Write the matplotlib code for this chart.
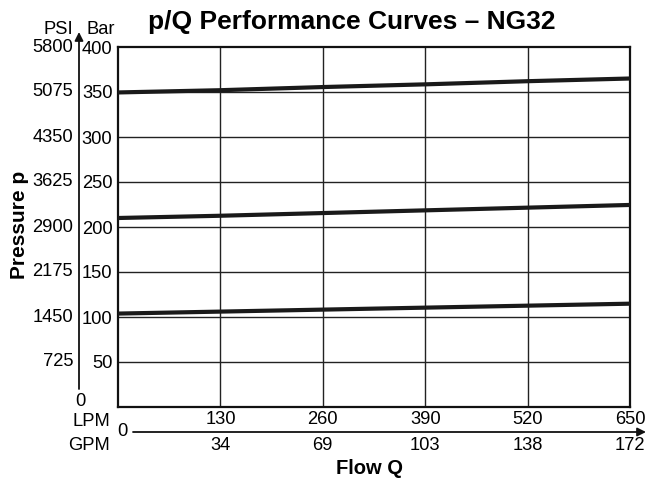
import matplotlib
matplotlib.use("Agg")
import matplotlib.pyplot as plt
from matplotlib.transforms import blended_transform_factory

# ---- data ----
flow_lpm = [0, 130, 260, 390, 520, 650]
curve_high = [349.5, 352.0, 355.5, 358.5, 362.0, 365.0]
curve_mid = [210.0, 212.5, 215.5, 218.5, 221.5, 224.5]
curve_low = [103.8, 106.0, 108.2, 110.4, 112.6, 114.8]
bar_ticks = [50, 100, 150, 200, 250, 300, 350, 400]
psi_labels = ["725", "1450", "2175", "2900", "3625", "4350", "5075", "5800"]
lpm_ticks = [130, 260, 390, 520, 650]
gpm_labels = ["34", "69", "103", "138", "172"]

W, H = 646, 483
FS = 13.2
plt.rcParams['font.family'] = ['Liberation Sans', 'DejaVu Sans']
fig = plt.figure(figsize=(W / 100, H / 100), dpi=100)
L, R, T, B = 118, 630, 47, 407
ax = fig.add_axes([L / W, 1 - B / H, (R - L) / W, (B - T) / H])

def fx(x):
    return x / W

def fy(y):
    return 1 - y / H

for c in (curve_high, curve_mid, curve_low):
    ax.plot(flow_lpm, c, color='#1a1a1a', lw=3.0, solid_capstyle='butt', zorder=3)

ax.set_xlim(0, 650)
ax.set_ylim(0, 400)
for v in bar_ticks[:-1]:
    ax.axhline(v, color='#222222', lw=1.0, zorder=1)
for v in lpm_ticks[:-1]:
    ax.axvline(v, color='#222222', lw=1.0, zorder=1)
for s in ax.spines.values():
    s.set_linewidth(1.6)
    s.set_color('#111111')

ax.set_yticks(bar_ticks)
ax.set_yticklabels([str(v) for v in bar_ticks], fontsize=FS)
ax.tick_params(axis='y', length=0, pad=4)
ax.set_xticks([])

# PSI labels
tr = blended_transform_factory(fig.transFigure, ax.transData)
for v, lab in zip(bar_ticks, psi_labels):
    ax.text(fx(73), v, lab, transform=tr, ha='right', va='center', fontsize=FS)
fig.text(fx(80.5), fy(402), "0", ha='center', va='center', fontsize=FS)

# vertical arrow
fig.add_artist(matplotlib.patches.FancyArrowPatch(
    (fx(79), fy(389)), (fx(79), fy(32)), transform=fig.transFigure,
    arrowstyle='-|>,head_length=5,head_width=2.5', color='#111111', lw=1.3,
    shrinkA=0, shrinkB=0))
fig.text(fx(73), fy(29), "PSI", ha='right', va='center', fontsize=FS)
fig.text(fx(87), fy(29), "Bar", ha='left', va='center', fontsize=FS)

# horizontal arrow
fig.add_artist(matplotlib.patches.FancyArrowPatch(
    (fx(133), fy(432)), (fx(646), fy(432)), transform=fig.transFigure,
    arrowstyle='-|>,head_length=5,head_width=2.5', color='#111111', lw=1.3,
    shrinkA=0, shrinkB=0))
fig.text(fx(122), fy(432), "0", ha='center', va='center', fontsize=FS)
fig.text(fx(110), fy(421), "LPM", ha='right', va='center', fontsize=FS)
fig.text(fx(110), fy(445), "GPM", ha='right', va='center', fontsize=FS)
trx = blended_transform_factory(ax.transData, fig.transFigure)
for v, g in zip(lpm_ticks, gpm_labels):
    ax.text(v, fy(420), str(v), transform=trx, ha='center', va='center', fontsize=FS)
    ax.text(v, fy(446), g, transform=trx, ha='center', va='center', fontsize=FS)

fig.text(fx(370), fy(469), "Flow Q", ha='center', va='center', fontsize=14.5, fontweight='bold')
fig.text(fx(20), fy(225), "Pressure p", ha='center', va='center', rotation=90,
         fontsize=15, fontweight='bold')
fig.text(fx(352), fy(22), "p/Q Performance Curves – NG32", ha='center', va='center',
         fontsize=19, fontweight='bold')

fig.savefig("out.png", dpi=100)
